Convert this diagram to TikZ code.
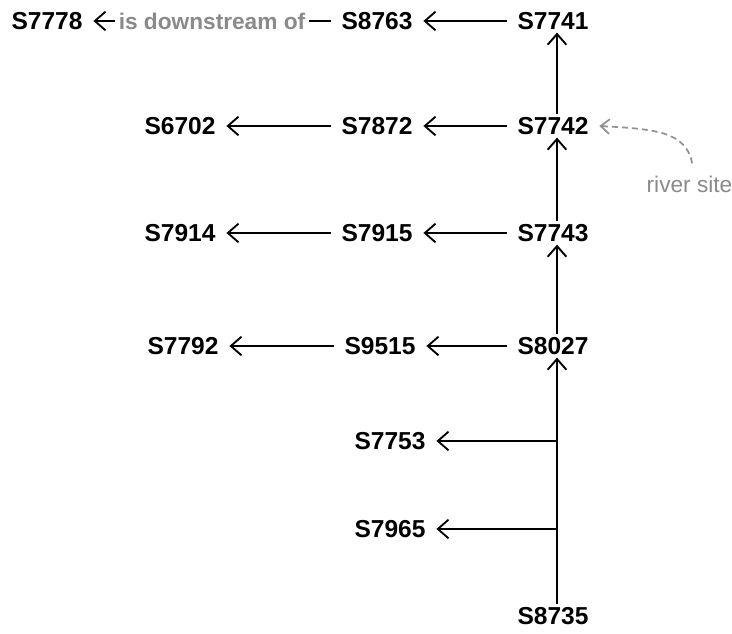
\documentclass[tikz,border=0pt]{standalone}
\usepackage{fontspec}
\setmainfont{Liberation Sans}
\usetikzlibrary{arrows.meta}
\definecolor{annot}{RGB}{138,138,138}
\definecolor{rivline}{RGB}{145,145,145}
\begin{document}
\begin{tikzpicture}[x=0.75pt,y=-0.75pt,
  site/.style={font=\fontsize{18.4}{22}\selectfont\bfseries, inner xsep=8pt, inner ysep=2pt},
  arr/.style={-{Straight Barb[length=8pt,width=14pt]}, line width=1.4pt},
  relation/.style={font=\fontsize{17}{20}\selectfont\bfseries, text=annot, fill=white, inner xsep=3pt, inner ysep=1pt},
  rivlabel/.style={font=\fontsize{17}{20}\selectfont, text=annot, inner sep=1pt},
  rivarr/.style={-{Straight Barb[length=6.5pt,width=11pt]}, line width=1.3pt, draw=rivline, dash pattern=on 4.5pt off 3pt},
  spine/.style={xshift=3pt}
]
\useasboundingbox (0,0) rectangle (732,633);
% nodes
\node[site] (s7778) at (47,21) {S7778};
\node[site] (s8763) at (377,21) {S8763};
\node[site] (s7741) at (553,21) {S7741};
\node[site] (s6702) at (180,126) {S6702};
\node[site] (s7872) at (377,126) {S7872};
\node[site] (s7742) at (553,126) {S7742};
\node[site] (s7914) at (180,233) {S7914};
\node[site] (s7915) at (377,233) {S7915};
\node[site] (s7743) at (553,233) {S7743};
\node[site] (s7792) at (183,346) {S7792};
\node[site] (s9515) at (380,346) {S9515};
\node[site] (s8027) at (553,346) {S8027};
\node[site] (s7753) at (390,441) {S7753};
\node[site] (s7965) at (390,529) {S7965};
\node[site] (s8735) at (553,616) {S8735};
\node[rivlabel, anchor=base] (river) at (689.5,192) {river site};
\coordinate (b1) at (557,441);
\coordinate (b2) at (557,529);
% spine
\draw[arr] ([spine]s8735.north) -- ([spine]s8027.south);
\draw[arr] ([spine]s8027.north) -- ([spine]s7743.south);
\draw[arr] ([spine]s7743.north) -- ([spine]s7742.south);
\draw[arr] ([spine]s7742.north) -- ([spine]s7741.south);
% horizontal
\draw[arr] (s8763) -- node[relation] {is downstream of} (s7778);
\draw[arr] (s7741) -- (s8763);
\draw[arr] (s7742) -- (s7872);
\draw[arr] (s7872) -- (s6702);
\draw[arr] (s7743) -- (s7915);
\draw[arr] (s7915) -- (s7914);
\draw[arr] (s8027) -- (s9515);
\draw[arr] (s9515) -- (s7792);
\draw[arr] (b1) -- (s7753);
\draw[arr] (b2) -- (s7965);
% annotation
\draw[rivarr] ([xshift=2pt,yshift=8pt]river.north) .. controls +(-6,-32) and +(55,3) .. (s7742.east);
\end{tikzpicture}
\end{document}
